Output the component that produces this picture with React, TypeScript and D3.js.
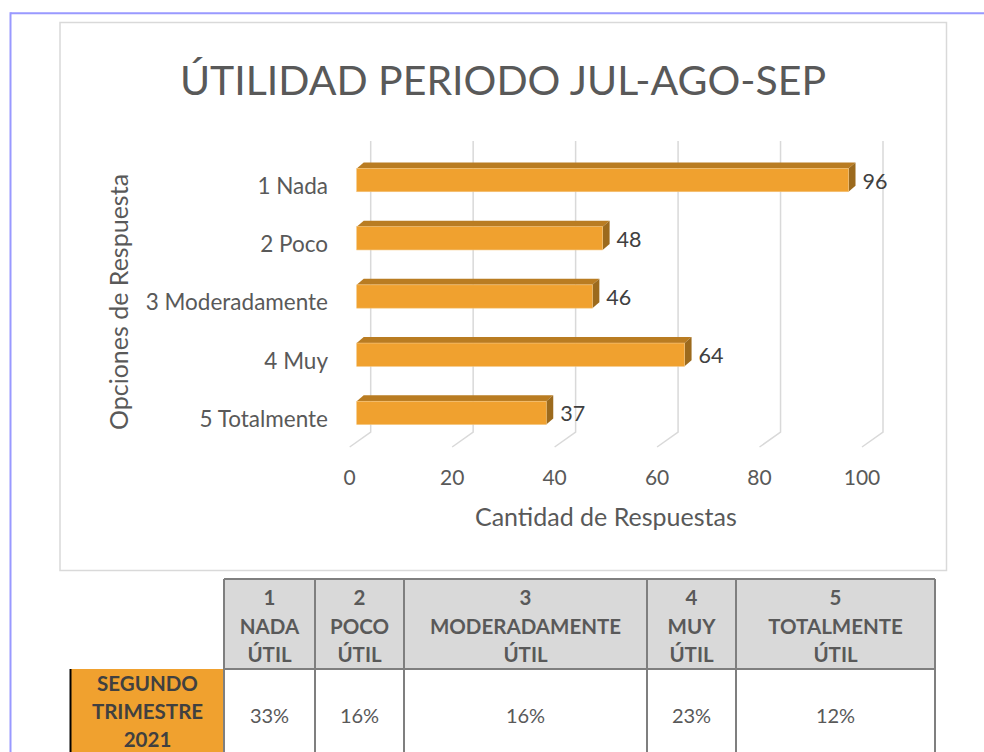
import React from "react";
import * as d3 from "d3";

const title = "ÚTILIDAD PERIODO JUL-AGO-SEP";
const categories = ["1 Nada", "2 Poco", "3 Moderadamente", "4 Muy", "5 Totalmente"];
const values = [96, 48, 46, 64, 37];
const xTicks = [0, 20, 40, 60, 80, 100];
const xAxisTitle = "Cantidad de Respuestas";
const yAxisTitle = "Opciones de Respuesta";

const tableHeaders = [
  ["1", "NADA", "ÚTIL"],
  ["2", "POCO", "ÚTIL"],
  ["3", "MODERADAMENTE", "ÚTIL"],
  ["4", "MUY", "ÚTIL"],
  ["5", "TOTALMENTE", "ÚTIL"],
];
const rowLabel = ["SEGUNDO", "TRIMESTRE", "2021"];
const percents = ["33%", "16%", "16%", "23%", "12%"];

const FONT = "Lato, 'Open Sans', sans-serif";
const W = 984;
const H = 752;

export default function App() {
  // back wall
  const x = d3.scaleLinear().domain([0, 100]).range([370.7, 883]);
  const y = d3.scaleBand<string>().domain(categories).range([141, 432]).paddingInner(0).paddingOuter(0);
  const floorDx = -21, floorDy = 15; // front of floor
  const barDx = -14, barDy = 10; // bar front plane
  const depthX = 7, depthY = -6; // bar depth vector (to back)
  const barH = y.bandwidth() * 0.4;

  const colEdges = [224, 315, 404, 647, 736, 935];
  const tTop = 579, tHeadBot = 669, tBot = 800;
  const rowLeft = 71;

  return (
    <svg width={W} height={H} style={{ position: "fixed", left: 0, top: 0, background: "#fff" }} fontFamily={FONT}>
      <rect x={0} y={0} width={W} height={H} fill="#fff" />
      {/* purple page border */}
      <line x1={10.5} y1={13.3} x2={W} y2={13.3} stroke="#9999ff" strokeWidth={2} />
      <line x1={10.5} y1={12.3} x2={10.5} y2={H} stroke="#9999ff" strokeWidth={2} />
      {/* chart frame */}
      <rect x={60} y={22.5} width={886.5} height={548} fill="#fff" stroke="#d9d9d9" strokeWidth={1.5} />
      <text x={503} y={95} textAnchor="middle" fontSize={41} fill="#595959">{title}</text>

      {/* gridlines */}
      {xTicks.map((t) => (
        <path key={t}
          d={`M${x(t)},${y.range()[0]} L${x(t)},${y.range()[1]} L${x(t) + floorDx},${y.range()[1] + floorDy}`}
          fill="none" stroke="#d9d9d9" strokeWidth={1.5} />
      ))}
      {xTicks.map((t) => (
        <text key={"l" + t} x={x(t) + floorDx} y={485} textAnchor="middle" fontSize={21} fill="#595959">{t}</text>
      ))}
      <text x={x(50) + floorDx} y={526} textAnchor="middle" fontSize={25} fill="#595959">{xAxisTitle}</text>
      <text transform={`translate(128,302) rotate(-90)`} textAnchor="middle" fontSize={25} fill="#595959">{yAxisTitle}</text>

      {categories.map((c) => (
        <text key={"c" + c} x={328} y={(y(c) as number) + y.bandwidth() / 2 + floorDy + 1} dy="0.35em" textAnchor="end" fontSize={22.5} fill="#595959">{c}</text>
      ))}

      {/* bars */}
      {categories.map((c, i) => {
        const v = values[i];
        const cy = (y(c) as number) + y.bandwidth() / 2 + barDy;
        const yT = cy - barH / 2, yB = cy + barH / 2;
        const x0 = x(0) + barDx, x1 = x(v) + barDx;
        return (
          <g key={"b" + c}>
            <polygon points={`${x0},${yT} ${x1},${yT} ${x1 + depthX},${yT + depthY} ${x0 + depthX},${yT + depthY}`} fill="#b97c22" />
            <polygon points={`${x1},${yT} ${x1 + depthX},${yT + depthY} ${x1 + depthX},${yB + depthY} ${x1},${yB}`} fill="#9c6a1d" />
            <rect x={x0} y={yT} width={x1 - x0} height={barH} fill="#f0a12f" stroke="#f4c37a" strokeWidth={0.6} />
            <text x={x1 + depthX + 7} y={cy + 1} dy="0.35em" fontSize={21.5} fill="#404040">{v}</text>
          </g>
        );
      })}

      {/* table */}
      <rect x={colEdges[0]} y={tTop} width={colEdges[5] - colEdges[0]} height={tHeadBot - tTop} fill="#d9d9d9" />
      <rect x={rowLeft} y={tHeadBot} width={colEdges[0] - rowLeft} height={tBot - tHeadBot} fill="#f0a12f" />
      <line x1={rowLeft - 0.5} y1={tHeadBot} x2={rowLeft - 0.5} y2={H} stroke="#000" strokeWidth={2} />
      <path d={`M${colEdges[0]},${tTop} H${colEdges[5]}`} stroke="#7f7f7f" strokeWidth={2} />
      <path d={`M${colEdges[0]},${tHeadBot} H${colEdges[5]}`} stroke="#7f7f7f" strokeWidth={2} />
      {colEdges.map((e, i) => (
        <line key={"e" + i} x1={e} y1={tTop} x2={e} y2={H} stroke="#7f7f7f" strokeWidth={2} />
      ))}
      {tableHeaders.map((lines, i) => (
        <g key={"h" + i}>
          {lines.map((ln, j) => (
            <text key={j} x={(colEdges[i] + colEdges[i + 1]) / 2} y={605 + j * 28.5} textAnchor="middle" fontSize={20.5} fontWeight={700} fill="#595959">{ln}</text>
          ))}
        </g>
      ))}
      {rowLabel.map((ln, j) => (
        <text key={"r" + j} x={(rowLeft + colEdges[0]) / 2} y={691 + j * 28} textAnchor="middle" fontSize={20.5} fontWeight={700} fill="#404040">{ln}</text>
      ))}
      {percents.map((p, i) => (
        <text key={"p" + i} x={(colEdges[i] + colEdges[i + 1]) / 2} y={723} textAnchor="middle" fontSize={20} fill="#595959">{p}</text>
      ))}
    </svg>
  );
}
